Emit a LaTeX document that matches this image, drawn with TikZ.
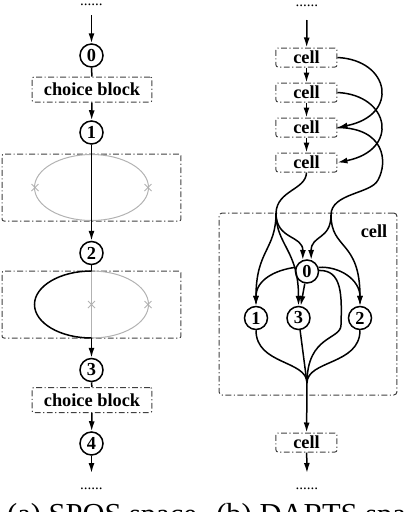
\documentclass[tikz,border=0pt]{standalone}
\usepackage{fontspec}
\setmainfont{Liberation Serif}
\usetikzlibrary{arrows.meta}
\begin{document}
\begin{tikzpicture}[x=0.6pt,y=0.6pt,
  lbl/.style={font=\fontsize{11}{12}\selectfont\bfseries},
  circ/.style={draw,circle,line width=0.9pt,minimum size=13.8pt,inner sep=0pt,lbl},
  dbox/.style={draw=black!75,line width=0.6pt,dash pattern=on 3.5pt off 1.5pt on 0.7pt off 1.5pt,rounded corners=1.2pt,inner sep=0pt,lbl},
  choice/.style={dbox,minimum width=72pt,minimum height=15pt},
  cellbox/.style={dbox,minimum width=36.6pt,minimum height=11.4pt},
  edge/.style={line width=0.9pt},
  arr/.style={edge,-{Latex[length=6pt,width=3.6pt]}},
  dots/.style={font=\fontsize{9}{10}\selectfont,anchor=base,inner sep=0pt},
  grayl/.style={draw=black!30,line width=0.6pt},
  xmark/.pic={\draw[grayl] (-3.5,-3.5)--(3.5,3.5) (-3.5,3.5)--(3.5,-3.5);},
  captext/.style={font=\fontsize{18.3}{20}\selectfont,inner sep=0pt}
]
\useasboundingbox (0,0) rectangle (408,-512);

% ---------- (a) SPOS ----------
\node[dots] (ldt) at (91.5,-5.5) {......};
\coordinate (ls) at (91.5,-15);
\node[circ] (a0) at (91.5,-55.5) {0};
\node[choice] (cb1) at (92,-89.5) {choice block};
\node[circ] (a1) at (91.5,-132.5) {1};
\node[dbox,minimum width=107.4pt,minimum height=40.2pt] (b1) at (91.5,-187.5) {};
\node[circ] (a2) at (91.5,-253) {2};
\node[dbox,minimum width=107.4pt,minimum height=40.2pt] (b2) at (91.5,-304.5) {};
\node[circ] (a3) at (91.5,-370) {3};
\node[choice] (cb2) at (92,-400) {choice block};
\node[circ] (a4) at (91.5,-443.5) {4};
\coordinate (le) at (91.5,-473);
\node[dots] (ldb) at (91.5,-489) {......};

\coordinate (e2t) at (91.5,-271);
\coordinate (e2b) at (91.5,-338);

% gray parts
\draw[grayl] (91.5,-187.5) ellipse [x radius=57, y radius=33];
\pic at (35,-187.5) {xmark};
\pic at (148,-187.5) {xmark};
\draw[grayl] (e2t) arc[start angle=90,end angle=-90,x radius=57,y radius=33.5];
\draw[grayl] (e2t) -- (e2b);
\pic at (91.5,-304.5) {xmark};
\pic at (148,-304.5) {xmark};

% black parts
\draw[arr] (ls) -- (a0);
\draw[edge] (a0) -- (cb1);
\draw[arr] (cb1) -- (a1);
\draw[arr] (a1) -- (a2);
\draw[edge] (a2) -- (e2t);
\draw[edge] (e2t) arc[start angle=90,end angle=270,x radius=57,y radius=33.5];
\draw[arr] (e2b) -- (a3);
\draw[edge] (a3) -- (cb2);
\draw[arr] (cb2) -- (a4);
\draw[arr] (a4) -- (le);

% ---------- (b) DARTS ----------
\node[dots] (rdt) at (307,-6.5) {......};
\coordinate (rs) at (307,-20);
\node[cellbox] (c1) at (306.5,-57.5) {cell};
\node[cellbox] (c2) at (306.5,-92.5) {cell};
\node[cellbox] (c3) at (306.5,-127.5) {cell};
\node[cellbox] (c4) at (306.5,-162.5) {cell};
\node[dbox,minimum width=106.8pt,minimum height=109.2pt,rounded corners=2pt] (big) at (308,-304) {};
\node[lbl] (cl) at (374,-231) {cell};
\node[circ] (d0) at (307,-271.5) {0};
\node[circ] (d1) at (256,-318) {1};
\node[circ] (d3) at (298.5,-318) {3};
\node[circ] (d2) at (360,-318) {2};
\coordinate (J1) at (276,-213);
\coordinate (J2) at (331,-215);
\coordinate (O) at (307,-383);
\coordinate (bend) at (341,-325);
\coordinate (sk) at (378,-180);
\node[cellbox] (c5) at (306.5,-442.5) {cell};
\coordinate (re) at (307,-473);
\node[dots] (rdb) at (307,-489) {......};

\draw[arr] (rs) -- (c1);
\draw[arr] (c1) -- (c2);
\draw[arr] (c2) -- (c3);
\draw[arr] (c3) -- (c4);
\draw[arr] (c1.east) .. controls (390,-60) and (400,-115) .. (c3.east);
\draw[arr] (c2.east) .. controls (390,-95) and (400,-150) .. (c4.east);
\draw[edge] (c3.east) .. controls (385,-128) and (388,-162) .. (sk)
  .. controls (371,-194) and (331,-193) .. (J2);
\draw[edge] (c4.south) .. controls (306,-190) and (277,-190) .. (J1);
\draw[arr] (J1) .. controls (276,-250) and (256,-250) .. (d1.north);
\draw[arr] (J1) .. controls (276,-245) and (298.5,-250) .. (d3.north);
\draw[arr] (J1) .. controls (276,-240) and (303,-235) .. (d0.110);
\draw[arr] (J2) .. controls (331,-240) and (311,-235) .. (d0.70);
\draw[arr] (J2) .. controls (331,-250) and (360,-240) .. (d2.north);
\draw[arr] (d0.160) .. controls (275,-270) and (256,-280) .. (d1.north);
\draw[arr] (d0) -- (d3);
\draw[arr] (d0.20) .. controls (340,-266) and (360,-280) .. (d2.north);
\draw[edge] (d0.5) .. controls (342,-270) and (342,-295) .. (bend)
  .. controls (341,-340) and (307,-335) .. (O);
\draw[edge] (d1.south) .. controls (256,-365) and (307,-360) .. (O);
\draw[edge] (d3) -- (O);
\draw[edge] (d2.south) .. controls (360,-365) and (307,-360) .. (O);
\draw[arr] (O) -- (c5);
\draw[arr] (c5) -- (re);

% captions (cut by the page edge, as in the reference)
\node[captext,anchor=base] (capa) at (102,-524.5) {(a) SPOS space};
\node[captext,anchor=base west] (capb) at (216,-524.5) {(b) DARTS space};
\end{tikzpicture}
\end{document}
